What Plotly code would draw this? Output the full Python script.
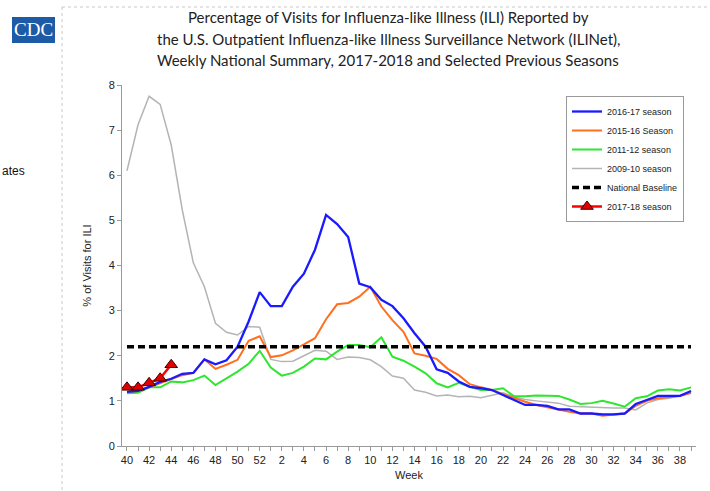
import plotly.graph_objects as go

# ---- data ----
weeks = [str(w) for w in list(range(40, 53)) + list(range(1, 40))]
tick_labels = [w if int(w) % 2 == 0 and w != "39" else "" for w in weeks]

season_2016_17 = [1.2, 1.22, 1.31, 1.42, 1.49, 1.6, 1.62, 1.92, 1.81, 1.9, 2.2, 2.76, 3.41,
                  3.1, 3.1, 3.53, 3.82, 4.35, 5.12, 4.92, 4.63, 3.6, 3.52, 3.24, 3.1, 2.83,
                  2.5, 2.2, 1.7, 1.62, 1.43, 1.31, 1.28, 1.24, 1.13, 1.02, 0.91, 0.91, 0.89,
                  0.81, 0.81, 0.72, 0.72, 0.7, 0.7, 0.72, 0.93, 1.02, 1.11, 1.11, 1.11, 1.22]
season_2015_16 = [1.2, 1.22, 1.3, 1.39, 1.49, 1.57, 1.62, 1.92, 1.71, 1.8, 1.91, 2.33, 2.43,
                  1.97, 2.01, 2.12, 2.25, 2.39, 2.81, 3.14, 3.17, 3.31, 3.53, 3.09, 2.79, 2.53,
                  2.05, 2.0, 1.93, 1.71, 1.57, 1.37, 1.3, 1.24, 1.15, 1.06, 0.98, 0.91, 0.86,
                  0.8, 0.76, 0.72, 0.72, 0.67, 0.69, 0.72, 0.89, 1.0, 1.06, 1.08, 1.11, 1.18]
season_2011_12 = [1.17, 1.18, 1.3, 1.3, 1.43, 1.41, 1.46, 1.56, 1.35, 1.5, 1.65, 1.82, 2.11,
                  1.74, 1.56, 1.62, 1.76, 1.94, 1.92, 2.09, 2.24, 2.24, 2.19, 2.41, 1.98, 1.89,
                  1.76, 1.61, 1.39, 1.3, 1.4, 1.31, 1.24, 1.24, 1.28, 1.1, 1.1, 1.12, 1.12,
                  1.11, 1.03, 0.93, 0.95, 1.0, 0.94, 0.87, 1.06, 1.1, 1.23, 1.26, 1.23, 1.3]
season_2009_10 = [6.1, 7.12, 7.75, 7.57, 6.67, 5.23, 4.06, 3.53, 2.72, 2.52, 2.46, 2.65, 2.63,
                  1.92, 1.87, 1.88, 2.0, 2.12, 2.1, 1.92, 1.97, 1.96, 1.91, 1.76, 1.55, 1.5,
                  1.24, 1.19, 1.11, 1.13, 1.09, 1.1, 1.07, 1.12, 1.18, 1.09, 1.03, 1.0, 0.98,
                  0.95, 0.88, 0.87, 0.86, 0.84, 0.84, 0.84, 0.8, 0.95, 1.03, 1.06, 1.11, 1.17]
season_2017_18 = [1.3, 1.3, 1.4, 1.5, 1.8]
national_baseline = 2.2

# ---- layout helpers (pixel -> paper) ----
L, R, T, B = 122, 14, 85, 45
W, H = 710, 491
PW, PH = W - L - R, H - T - B


def px(x):
    return (x - L) / PW


def py(y):
    return (H - B - y) / PH


fig = go.Figure()

fig.add_trace(go.Scatter(x=weeks, y=season_2009_10, mode="lines", name="2009-10 season",
                         line=dict(color="#b4b4b4", width=1.5), legendrank=4))
fig.add_trace(go.Scatter(x=weeks, y=season_2011_12, mode="lines", name="2011-12 season",
                         line=dict(color="#2ee62e", width=2), legendrank=3))
fig.add_trace(go.Scatter(x=weeks, y=season_2015_16, mode="lines", name="2015-16 Season",
                         line=dict(color="#ff6f1e", width=2), legendrank=2))
fig.add_trace(go.Scatter(x=weeks, y=season_2016_17, mode="lines", name="2016-17 season",
                         line=dict(color="#1a1aff", width=2.3), legendrank=1))
fig.add_trace(go.Scatter(x=[weeks[0], weeks[-1]], y=[national_baseline] * 2, mode="lines",
                         name="National Baseline",
                         line=dict(color="black", width=3.5, dash="7px,4px"), legendrank=5))
fig.add_trace(go.Scatter(x=weeks[:len(season_2017_18)], y=season_2017_18, mode="lines+markers",
                         name="2017-18 season",
                         line=dict(color="#ff0000", width=2.5),
                         marker=dict(symbol="triangle-up", size=11, color="#e00000",
                                     line=dict(color="#400000", width=1)),
                         legendrank=6))

axis_font = dict(family="Arial, Liberation Sans, sans-serif", size=11, color="#222")

fig.update_layout(
    width=W, height=H,
    margin=dict(l=L, r=R, t=T, b=B),
    paper_bgcolor="white", plot_bgcolor="white",
    showlegend=True,
    legend=dict(x=px(566), y=py(96), xanchor="left", yanchor="top",
                bordercolor="#9a9a9a", borderwidth=1, bgcolor="white",
                font=dict(family="Arial, Liberation Sans, sans-serif", size=9, color="#222"),
                tracegroupgap=0),
    xaxis=dict(type="category", categoryorder="array", categoryarray=weeks,
               range=[-0.45, 51.45], tickmode="array", tickvals=weeks, ticktext=tick_labels,
               ticks="outside", ticklen=4, tickcolor="#999", showline=True,
               linecolor="#999", linewidth=1, showgrid=False, zeroline=False,
               tickfont=axis_font,
               title=dict(text="Week", font=axis_font, standoff=6)),
    yaxis=dict(range=[0, 8], dtick=1, ticks="outside", ticklen=4, tickcolor="#999",
               showline=True, linecolor="#999", linewidth=1, showgrid=False,
               zeroline=False, tickfont=axis_font,
               title=dict(text="% of Visits for ILI", font=axis_font, standoff=14)),
)

title_font = dict(family="Lato, Open Sans, sans-serif", size=15, color="#222")
title_lines = [
    "Percentage of Visits for Influenza-like Illness (ILI) Reported by",
    "the U.S. Outpatient Influenza-like Illness Surveillance Network (ILINet),",
    "Weekly National Summary, 2017-2018 and Selected Previous Seasons",
]
for i, (line, yc) in enumerate(zip(title_lines, [17, 39, 60])):
    fig.add_annotation(text=line, x=px(388), y=py(yc), xref="paper", yref="paper",
                       xanchor="center", yanchor="middle", showarrow=False,
                       font=title_font)

# page decorations: frame lines, CDC logo, clipped side text
fig.add_shape(type="line", xref="paper", yref="paper", x0=px(62), x1=px(62),
              y0=py(7), y1=py(491), line=dict(color="#c8c8c8", width=1, dash="dot"))
fig.add_shape(type="line", xref="paper", yref="paper", x0=px(62), x1=px(710),
              y0=py(7), y1=py(7), line=dict(color="#c8c8c8", width=1, dash="dot"))
fig.add_shape(type="rect", xref="paper", yref="paper", x0=px(12), x1=px(55),
              y0=py(43), y1=py(17), fillcolor="#1d5ba6", line=dict(width=0))
fig.add_annotation(text="CDC", x=px(33.5), y=py(30), xref="paper", yref="paper",
                   xanchor="center", yanchor="middle", showarrow=False,
                   font=dict(family="Liberation Serif, DejaVu Serif, serif", size=19,
                             color="white"))
fig.add_annotation(text="ates", x=px(0), y=py(171), xref="paper", yref="paper",
                   xanchor="left", yanchor="middle", showarrow=False,
                   font=dict(family="Arial, Liberation Sans, sans-serif", size=12,
                             color="#111"))

fig.write_html("out.html", config={"displayModeBar": False},
               post_script="document.body.style.margin='0';document.body.style.overflow='hidden';")
